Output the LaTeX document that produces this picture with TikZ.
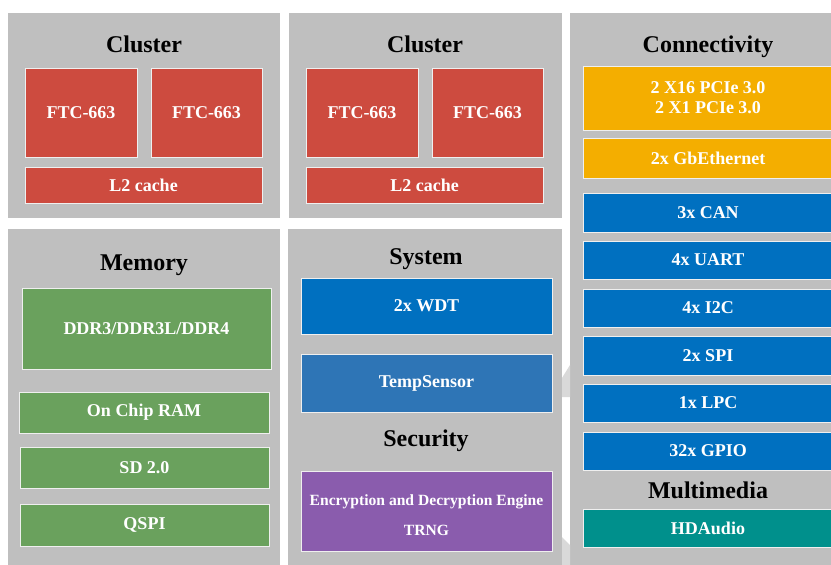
\documentclass[tikz,border=0pt]{standalone}
\usepackage{fontspec}
\setmainfont{Liberation Serif}
\usepackage{xcolor}
\usetikzlibrary{positioning}
\definecolor{panelgray}{HTML}{BFBFBF}
\definecolor{arrowgray}{HTML}{D9D9D9}
\definecolor{corered}{HTML}{CD4B3F}
\definecolor{memgreen}{HTML}{6AA15D}
\definecolor{iobrue}{HTML}{0070C0}
\definecolor{tempblue}{HTML}{2E75B6}
\definecolor{secpurple}{HTML}{8A5CAD}
\definecolor{conorange}{HTML}{F4AE00}
\definecolor{mediateal}{HTML}{00908C}
\tikzset{
	panel/.style={
		rectangle,
		anchor=north west,
		inner sep=0pt,
		outer sep=0pt,
		fill=panelgray
	},
	title/.style={
		anchor=base,
		inner sep=0pt,
		font=\fontsize{24}{28}\selectfont\bfseries
	},
	block/.style={
		rectangle,
		align=center,
		anchor=north west,
		inner sep=0pt,
		outer sep=0pt,
		draw=white!75!panelgray,
		line width=.8pt,
		text=white,
		font=\fontsize{18}{20}\selectfont\bfseries
	},
	unit/.style={
		block,
		fill=iobrue,
		minimum width=250pt,
		minimum height=38pt
	}
}

\begin{document}
\begin{tikzpicture}[x=1pt,y=-1pt]
	\clip (0,0) rectangle (831,565);
	\fill[white] (0,0) rectangle (831,565);
	% panels
	\node[panel, minimum width=272pt, minimum height=205pt] (PanCluA) at (8,13) {};
	\node[panel, minimum width=273pt, minimum height=205pt] (PanCluB) at (289,13) {};
	\node[panel, minimum width=272pt, minimum height=345pt] (PanMem) at (8,229) {};
	\node[panel, minimum width=274pt, minimum height=345pt] (PanSys) at (288,229) {};
	\node[panel, minimum width=275pt, minimum height=560pt] (PanCon) at (570,13) {};
	\fill[arrowgray] (562,378) -- (570,365) -- (570,397) -- (562,397) -- cycle;
	\fill[arrowgray] (562,537) -- (570,545) -- (570,565) -- (562,565) -- cycle;

	% clusters
	\node[title] (TitCluA) at (144,52) {Cluster};
	\node[block, fill=corered, minimum width=112pt, minimum height=89pt] (CoreA1) at (25,68) {FTC-663};
	\node[block, fill=corered, minimum width=111pt, minimum height=89pt, right=14pt of CoreA1.north east, anchor=north west] (CoreA2) {FTC-663};
	\node[block, fill=corered, minimum width=237pt, minimum height=36pt, below=10pt of CoreA1.south west, anchor=north west] (CacheA) {L2 cache};

	\node[title] (TitCluB) at (425,52) {Cluster};
	\node[block, fill=corered, minimum width=112pt, minimum height=89pt] (CoreB1) at (306,68) {FTC-663};
	\node[block, fill=corered, minimum width=111pt, minimum height=89pt, right=14pt of CoreB1.north east, anchor=north west] (CoreB2) {FTC-663};
	\node[block, fill=corered, minimum width=237pt, minimum height=36pt, below=10pt of CoreB1.south west, anchor=north west] (CacheB) {L2 cache};

	% memory
	\node[title] (TitMem) at (144,270) {Memory};
	\node[block, fill=memgreen, minimum width=249pt, minimum height=81pt] (DDR) at (22,288) {DDR3/DDR3L/DDR4};
	\node[block, fill=memgreen, minimum width=250pt, minimum height=41pt] (OCRAM) at (19,392) {On Chip RAM};
	\node[block, fill=memgreen, minimum width=249pt, minimum height=41pt] (SD) at (20,447) {SD 2.0};
	\node[block, fill=memgreen, minimum width=249pt, minimum height=42pt] (QSPI) at (20,504) {QSPI};

	% system and security
	\node[title] (TitSys) at (426,264) {System};
	\node[block, fill=iobrue, minimum width=251pt, minimum height=56pt] (WDT) at (301,278) {2x WDT};
	\node[block, fill=tempblue, minimum width=251pt, minimum height=58pt] (Temp) at (301,354) {TempSensor};
	\node[title] (TitSec) at (426,446) {Security};
	\node[block, fill=secpurple, minimum width=251pt, minimum height=80pt, font=\fontsize{15.6}{20}\selectfont\bfseries] (Crypt) at (301,471) {\raisebox{0pt}[\dimexpr\height+8pt]{Encryption and Decryption Engine}\\[10pt]TRNG};

	% connectivity and multimedia
	\node[title] (TitCon) at (708,52) {Connectivity};
	\node[block, fill=conorange, minimum width=250pt, minimum height=64pt] (PCIe) at (583,66) {2 X16 PCIe 3.0\\2 X1 PCIe 3.0};
	\node[block, fill=conorange, minimum width=250pt, minimum height=40pt, below=8pt of PCIe.south west, anchor=north west] (GbE) {2x GbEthernet};
	\node[unit, minimum height=39pt, below=15pt of GbE.south west, anchor=north west] (CAN) {3x CAN};
	\node[unit, below=9pt of CAN.south west, anchor=north west] (UART) {4x UART};
	\node[unit, below=10pt of UART.south west, anchor=north west] (I2C) {4x I2C};
	\node[unit, minimum height=39pt, below=9pt of I2C.south west, anchor=north west] (SPI) {2x SPI};
	\node[unit, below=9pt of SPI.south west, anchor=north west] (LPC) {1x LPC};
	\node[unit, below=10pt of LPC.south west, anchor=north west] (GPIO) {32x GPIO};
	\node[title] (TitMedia) at (708,498) {Multimedia};
	\node[unit, fill=mediateal, minimum height=38pt] (HDA) at (583,509) {HDAudio};
\end{tikzpicture}
\end{document}
